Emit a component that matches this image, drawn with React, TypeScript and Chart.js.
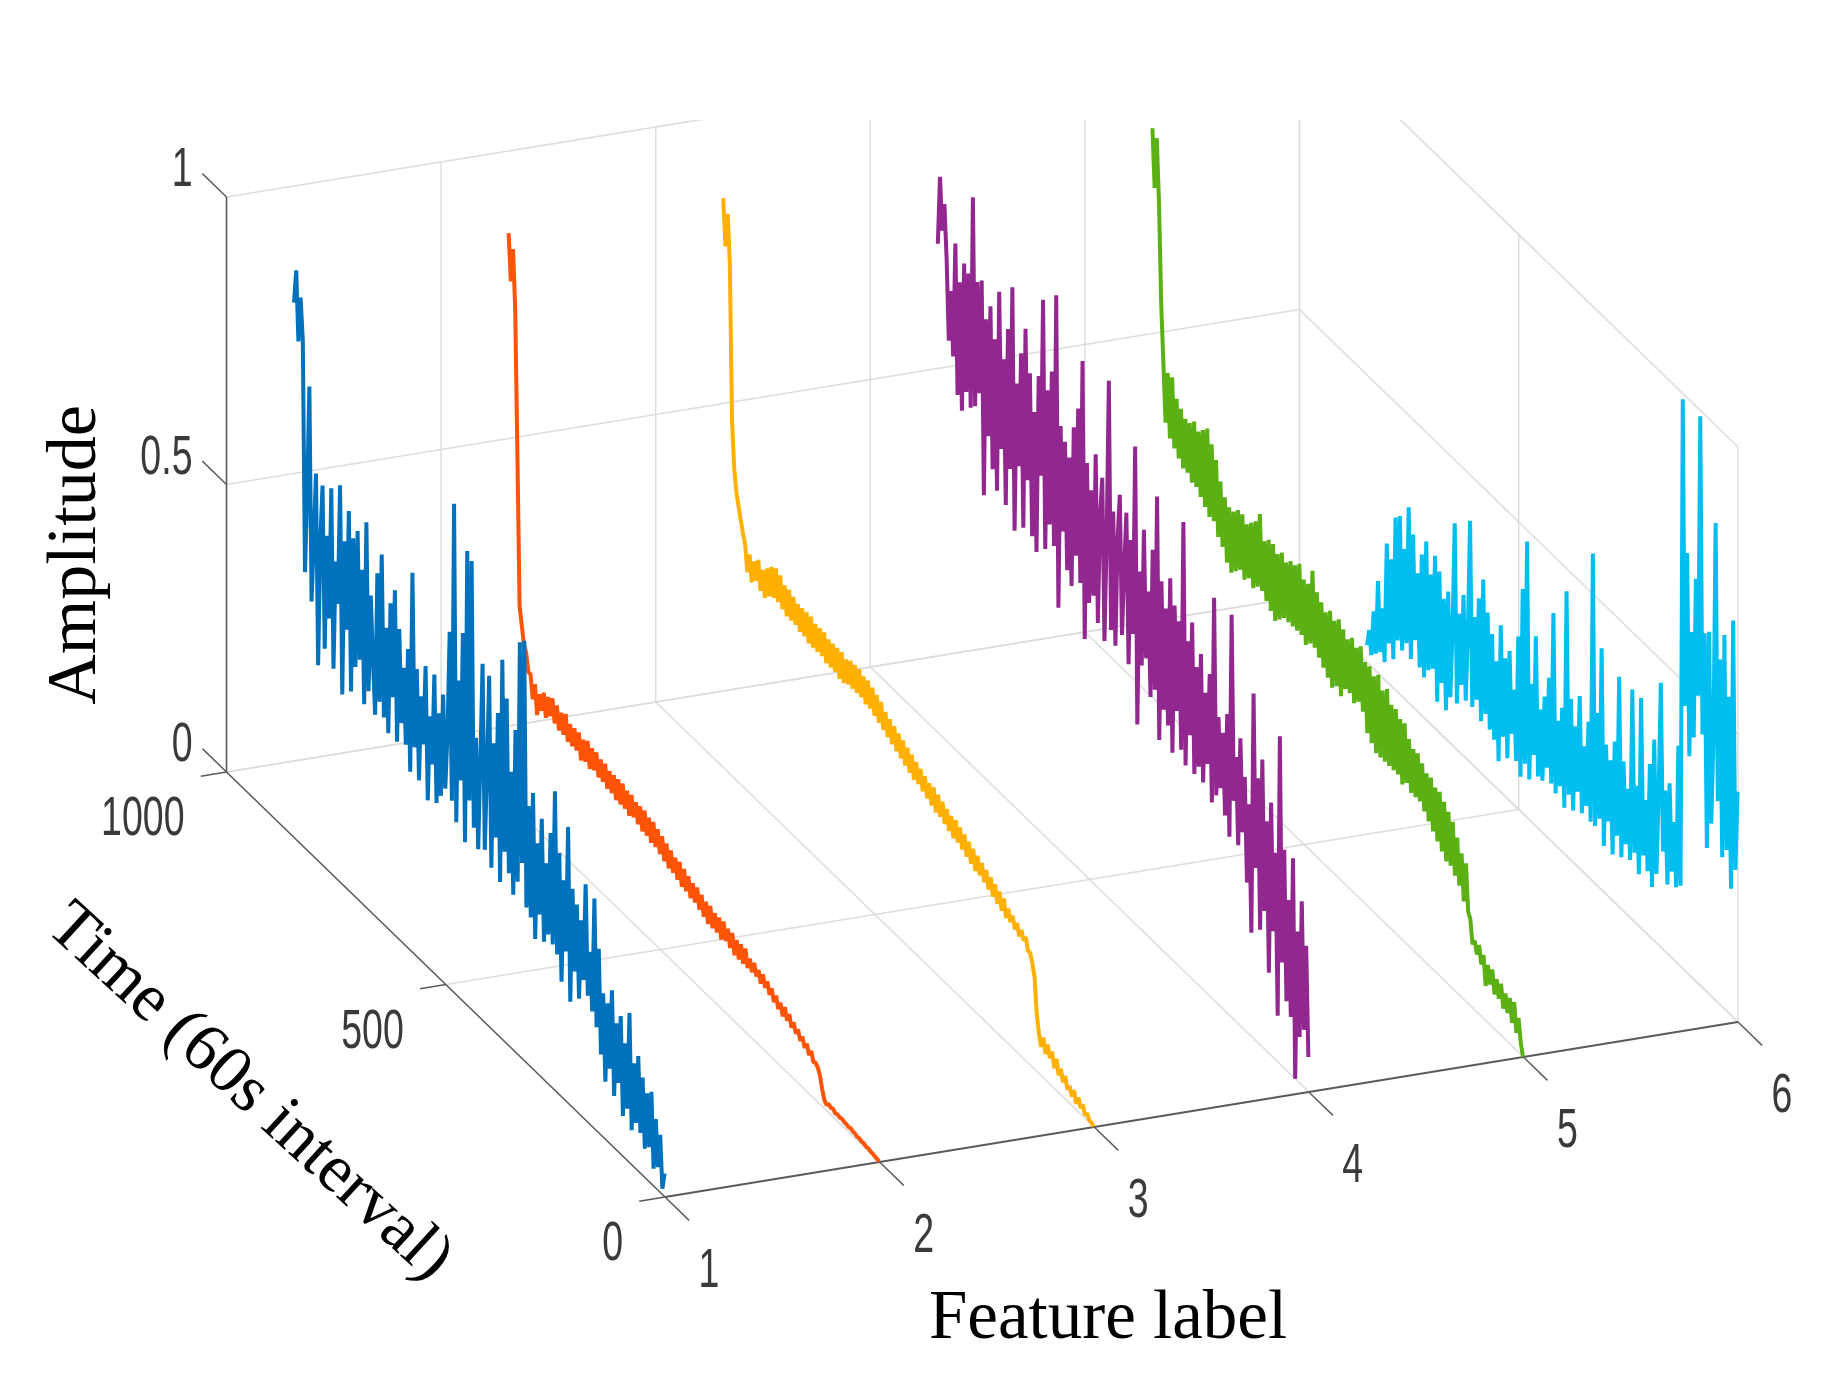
import React, { useEffect, useRef } from "react";
import { Chart, registerables } from "chart.js";

Chart.register(...registerables);

// Sample times, latest first: 846, 841, ... 1
const sampleTimes: number[] = [
  846,841,836,831,826,821,816,811,806,801,796,791,786,781,776,771,766,761,756,751,
  746,741,736,731,726,721,716,711,706,701,696,691,686,681,676,671,666,661,656,651,
  646,641,636,631,626,621,616,611,606,601,596,591,586,581,576,571,566,561,556,551,
  546,541,536,531,526,521,516,511,506,501,496,491,486,481,476,471,466,461,456,451,
  446,441,436,431,426,421,416,411,406,401,396,391,386,381,376,371,366,361,356,351,
  346,341,336,331,326,321,316,311,306,301,296,291,286,281,276,271,266,261,256,251,
  246,241,236,231,226,221,216,211,206,201,196,191,186,181,176,171,166,161,156,151,
  146,141,136,131,126,121,116,111,106,101,96,91,86,81,76,71,66,61,56,51,
  46,41,36,31,26,21,16,11,6,1,
];

// Amplitudes in percent of full scale, one per sample time
const feature1: number[] = [
  93,99,87,95,88,48,62,81,44,55, 67,34,56,66,38,58,44,67,36,55,
  48,69,33,60,45,66,35,62,40,64, 42,58,35,67,38,55,44,35,60,38,
  64,36,52,34,57,41,60,34,54,38, 48,35,52,31,66,36,50,31,46,38,
  52,29,44,36,52,30,46,32,50,34, 44,62,33,85,30,55,38,64,28,79,
  36,78,32,48,29,45,62,30,44,61, 28,50,34,56,27,66,33,60,30,48,
  27,56,30,72,34,73,27,45,26,48, 23,40,28,45,24,38,26,44,25,52,
  24,42,20,38,26,48,18,38,24,36, 20,34,24,41,22,30,20,40,18,32,
  14,25,10,24,13,27,9,22,12,24, 7,20,9,26,6,18,8,20,7,17,
  5,15,6,16,3,12,4,10,1,4,
];
const feature2: number[] = [
  99,91,97,87,62,36,33,30,29,26, 26,22,25,20,24,21.5,25,21,25,22,
  25.5,21.5,25,21,24.5,21,25,20.5,24,20.5, 24,20.5,24,19.5,23.5,20,24,19.5,23.5,20,
  23.5,19.5,23,19.5,23,19,22.5,19,22.5,18.5, 22.5,18.5,22.5,18.5,22,18,22,18.5,21.5,18,
  21.5,17.5,21.5,17.5,21,17,21,17,20.5,16.5, 20,16,19.5,15.5,19,15.5,18.5,15,18.5,14.5,
  18,14.5,17.5,14,17,14,17,13.5,16.5,13, 16,12.5,16,12.5,15.5,12.5,15.5,12,15.5,12.5,
  15,12,15,11.5,14.5,11.5,14.5,11.5,14.5,11.5, 13.5,11.5,13.5,11.5,13,11,13,11,12.5,10.5,
  12,10,11.5,9.5,11,9,11,9,10.5,8.5, 9.8,8.2,9.3,7.7,8.8,7.2,8.3,6.7,7.8,6.2,
  6.5,6,5,3,1.5,1,1.5,1.2,1.4,1, 1.2,1,1.2,1,1,0.8,1,0.8,0.8,0.6,
  0.7,0.5,0.6,0.4,0.5,0.3,0.3,0.2,0.1,0,
];
const feature3: number[] = [
  99,91,97,89,62,54,50,48,46,44, 42.5,38,41.5,37,41,38,42,37,41,36.5,
  42,37.5,43,38,43.5,38,43,37.5,42,37, 42,37,41.5,37,41,36.5,41,36.5,41,36,
  41,36,40.5,36,40.5,36,40.5,35.5,40,35.5, 40,35.5,40,35,40,35,39.5,35.5,40,35.5,
  40,35.5,40,35.5,39.5,35,39.5,35,39,34.5, 38.5,34,38,33.5,37,33,36.5,32.5,36,32,
  35.5,31.5,35,31,34.5,30.5,34,30,33.5,30, 33,29.5,32.5,29,32,28.5,32,28,31.5,28,
  31,27.5,30.5,27,30,26.5,30,26.5,29.5,26, 29,25.5,28.5,25,28,24.5,27.5,24.5,27,24,
  26.5,23.5,26,23,25.5,22.5,25,22,24.5,21.5, 23.5,21.5,23,21,22.5,20.5,22,20.5,21.5,19.5,
  19.5,18,16,10,7,5,7,4.5,6.5,4.5, 6,3.5,5.5,3,4.5,2.5,4,2,3,1.5,
  3,1,2.5,1,2,0.5,1.2,0.3,0.3,0,
];
const feature4: number[] = [
  85,97,88,93,84,70,79,68,88,62, 82,60,86,64,85,62,99,63,85,66,
  86,49,80,60,83,55,78,52,87,60, 76,51,82,58,90,48,74,60,80,50,
  85,59,78,50,72,48,79,62,93,50, 78,55,82,52,96,42,74,56,72,50,
  70,48,76,54,80,50,89,41,72,48, 68,50,75,46,65,72,44,62,90,47,
  68,45,64,72,48,60,70,44,66,50, 83,35,62,46,70,48,60,42,68,44,
  78,36,64,42,60,40,66,36,62,44, 60,38,78,36,58,42,62,36,55,38,
  58,36,52,40,56,34,70,36,50,38, 48,34,52,31,70,38,46,31,50,34,
  44,26,40,18,60,30,46,20,50,24, 40,14,44,22,36,8,57,18,38,12,
  30,10,38,0,26,8,32,10,25,6,
];
const feature5: number[] = [
  99,89,98,87,70,60,50,59,48,59, 47,56,46,55,45,54,45,54,44,55,
  44,54,43,55,42,56,41,54,41,52, 39,49,38,47,36,46,35,46,36,47,
  37,47,36,46,37,47,36,48,37,50, 37,46,36,47,35,47,34,46,35,47,
  36,46,36,47,36,47,36,48,36,46, 35,46,36,49,36,46,35,45,34,44,
  33,45,32,44,33,45,32,44,34,43, 34,44,33,43,34,44,33,42,30,42,
  29,41,28,42,28,40,28,41,28,39, 28,39,28,38,27,38,28,36,27,35,
  27,35,27,34,26,33,25,33,24,32, 23,32,22,31,21,30,21,29,20,27,
  19,25,17,24,16,15,11,12,10,12, 9,11,6,10,7,10,6,9,6,9,
  5,8,5,8,4,8,3,6,2,0,
];
const feature6: number[] = [
  3,6,2,10,3,16,4,12,3,24, 7,22,5,30,9,31,8,26,10,34,
  8,30,12,24,8,28,7,31,9,26, 10,30,5,28,9,24,5,26,8,20,
  39,8,24,12,28,10,22,42,10,26, 12,30,9,34,11,29,9,26,8,22,
  5,29,10,24,7,26,12,20,8,30, 6,39,9,48,7,24,12,33,9,21,
  9,24,12,28,10,40,9,22,11,25, 8,46,11,28,9,24,13,30,10,22,
  12,27,10,57,10,30,12,42,8,26, 13,24,8,28,12,40,9,26,12,22,
  10,40,12,24,9,40,13,23,11,30, 9,35,12,26,46,17,28,12,30,15,
  24,13,38,14,99,46,73,38,60,42, 70,50,99,44,62,25,63,30,45,83,
  35,60,26,65,28,55,22,69,26,40,
];

const seriesValues: number[][] = [feature1, feature2, feature3, feature4, feature5, feature6];
const seriesColors: string[] = ["#0072BD", "#FF5306", "#FFB000", "#92278F", "#5BB014", "#00BFF0"];

const featureTicks: number[] = [1, 2, 3, 4, 5, 6];
const timeTicks: number[] = [0, 500, 1000];
const timeTickLabels: string[] = ["0", "500", "1000"];
const ampTicks: number[] = [0, 0.5, 1];
const ampTickLabels: string[] = ["0", "0.5", "1"];

const GRID = "#dcdcdc";
const AXIS = "#5a5a5a";
const TEXT = "#3a3a3a";

// Parallel projection of the MATLAB view onto the page
function project(feature: number, time: number, amp: number) {
  return {
    x: 665 + (feature - 1) * 214.6 - time * 0.4385,
    y: 1197 - (feature - 1) * 35 - time * 0.425 - amp * 575,
  };
}

function seg(
  a: [number, number, number],
  b: [number, number, number],
  color: string,
  width: number
) {
  return {
    data: [project(a[0], a[1], a[2]), project(b[0], b[1], b[2])],
    borderColor: color,
    borderWidth: width,
    pointRadius: 0,
    showLine: true,
  };
}

function buildDatasets() {
  const traces = seriesValues.map((vals, i) => ({
    data: vals.map((v, k) => project(featureTicks[i], sampleTimes[k], v / 100)),
    borderColor: seriesColors[i],
    borderWidth: 4,
    pointRadius: 0,
    showLine: true,
    tension: 0,
    borderJoinStyle: "bevel" as const,
    borderCapStyle: "butt" as const,
  }));

  const axes: any[] = [
    seg([1, 1000, 0], [1, 1000, 1], AXIS, 1.6),
    seg([1, 0, 0], [1, 1000, 0], AXIS, 1.6),
    seg([1, 0, 0], [6, 0, 0], AXIS, 2),
  ];
  featureTicks.forEach((f) => axes.push(seg([f, 0, 0], [f, -55, 0], AXIS, 1.4)));
  timeTicks.forEach((t) => axes.push(seg([1, t, 0], [0.88, t, 0], AXIS, 1.4)));
  ampTicks.forEach((a) => axes.push(seg([1, 1000, a], [1, 1055, a], AXIS, 1.4)));

  const grid: any[] = [];
  featureTicks.forEach((f) => {
    if (f > 1) grid.push(seg([f, 0, 0], [f, 1000, 0], GRID, 1.6));
    if (f > 1) grid.push(seg([f, 1000, 0], [f, 1000, 1], GRID, 1.4));
  });
  timeTicks.forEach((t) => {
    if (t > 0) grid.push(seg([1, t, 0], [6, t, 0], GRID, 1.6));
    grid.push(seg([6, t, 0], [6, t, 1], GRID, 1.4));
  });
  ampTicks.forEach((a) => {
    grid.push(seg([1, 1000, a], [6, 1000, a], GRID, 1.6));
    grid.push(seg([6, 0, a], [6, 1000, a], GRID, 1.6));
  });

  return [...traces, ...axes, ...grid];
}

function squeezedText(
  ctx: CanvasRenderingContext2D,
  text: string,
  x: number,
  y: number,
  align: CanvasTextAlign
) {
  ctx.save();
  ctx.translate(x, y);
  ctx.scale(0.67, 1);
  ctx.font = '56px "Liberation Sans"';
  ctx.fillStyle = TEXT;
  ctx.textAlign = align;
  ctx.textBaseline = "middle";
  ctx.fillText(text, 0, 0);
  ctx.restore();
}

function titleText(
  ctx: CanvasRenderingContext2D,
  text: string,
  x: number,
  y: number,
  angle: number,
  size: number
) {
  ctx.save();
  ctx.translate(x, y);
  ctx.rotate(angle);
  ctx.font = `${size}px "Liberation Serif"`;
  ctx.fillStyle = "#000000";
  ctx.textAlign = "center";
  ctx.textBaseline = "alphabetic";
  ctx.fillText(text, 0, 0);
  ctx.restore();
}

const labelPlugin = {
  id: "labels3d",
  afterDraw(chart: any) {
    const ctx: CanvasRenderingContext2D = chart.ctx;
    featureTicks.forEach((f) => {
      const p = project(f, 0, 0);
      squeezedText(ctx, String(f), p.x + 44, p.y + 75, "center");
    });
    timeTicks.forEach((t, i) => {
      const p = project(1, t, 0);
      squeezedText(ctx, timeTickLabels[i], p.x - 42, p.y + 48, "right");
    });
    ampTicks.forEach((a, i) => {
      const p = project(1, 1000, a);
      squeezedText(ctx, ampTickLabels[i], p.x - 34, p.y - 26, "right");
    });
    titleText(ctx, "Amplitude", 95, 555, -Math.PI / 2, 70);
    titleText(ctx, "Feature label", 1108, 1338, 0, 69);
    titleText(ctx, "Time (60s interval)", 237, 1106, (42.5 * Math.PI) / 180, 68);
  },
};

export default function App() {
  const ref = useRef<HTMLCanvasElement | null>(null);
  useEffect(() => {
    if (!ref.current) return;
    const chart = new Chart(ref.current, {
      type: "scatter",
      data: { datasets: buildDatasets() as any },
      options: {
        responsive: false,
        animation: false,
        layout: { padding: { top: 120, left: 0, right: 0, bottom: 0 } },
        plugins: { legend: { display: false }, tooltip: { enabled: false } },
        scales: {
          x: { type: "linear", min: 0, max: 1840, display: false },
          y: { type: "linear", min: 120, max: 1379, reverse: true, display: false },
        },
      },
      plugins: [labelPlugin],
    });
    return () => chart.destroy();
  }, []);
  return (
    <canvas
      ref={ref}
      width={1840}
      height={1379}
      style={{ position: "absolute", left: 0, top: 0, display: "block" }}
    />
  );
}
